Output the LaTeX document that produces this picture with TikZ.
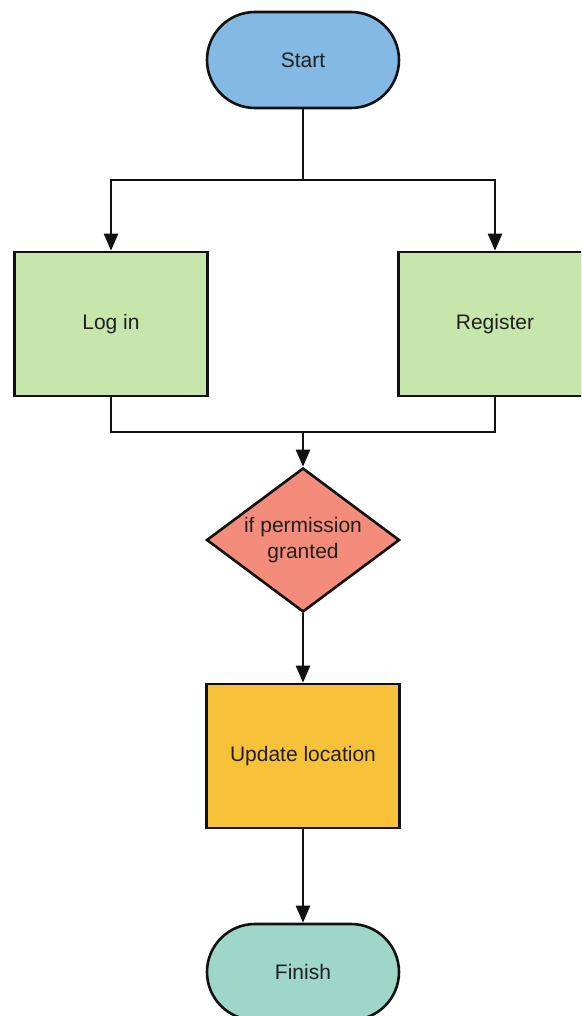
\documentclass[tikz,border=0pt]{standalone}
\usepackage{fontspec}
\setmainfont{Liberation Sans}
\usetikzlibrary{arrows.meta,shapes.geometric}
\definecolor{cstart}{HTML}{84B9E3}
\definecolor{cgreen}{HTML}{C6E6AC}
\definecolor{cred}{HTML}{F48C7C}
\definecolor{cyellow}{HTML}{F8C13A}
\definecolor{cteal}{HTML}{9ED6CA}
\definecolor{ctext}{HTML}{202020}
\definecolor{cline}{HTML}{111111}
\tikzset{
  base/.style={draw=cline, line width=2.6pt, inner sep=0pt, text=ctext, font=\fontsize{21}{26}\selectfont},
  pill/.style={base, rectangle, rounded corners=48pt, minimum width=192pt, minimum height=96pt},
  box/.style={base, rectangle, minimum width=193pt, minimum height=144pt},
  decision/.style={base, diamond, minimum width=193pt, minimum height=144pt},
  label/.style={text=ctext, font=\fontsize{21}{26}\selectfont, align=center, inner sep=0pt},
  conn/.style={draw=cline, line width=2.4pt},
  arrow/.style={conn, -{Triangle[width=14pt,length=17pt]}}
}
\begin{document}
\begin{tikzpicture}[x=1pt,y=-1pt]
\useasboundingbox (0,0) rectangle (581,1016);
\clip (0,0) rectangle (581,1016);
\fill[white] (0,0) rectangle (581,1016);
\node[pill, fill=cstart] (start) at (303,60) {Start};
\node[box, fill=cgreen] (login) at (111,324) {Log in};
\node[box, fill=cgreen] (register) at (495,324) {Register};
\node[decision, fill=cred] (dec) at (303,540) {};
\node[label] (dectext) at (303,540) {if permission\\granted};
\node[box, fill=cyellow] (update) at (303,756) {Update location};
\node[pill, fill=cteal] (finish) at (303,972) {Finish};
\coordinate (split) at (303,180);
\coordinate (merge) at (303,432);
\draw[conn] (start.south) -- (split);
\draw[arrow] (split) -| (login.north);
\draw[arrow] (split) -| (register.north);
\draw[conn] (login.south) |- (merge);
\draw[conn] (register.south) |- (merge);
\draw[arrow] (merge) -- (dec.north);
\draw[arrow] (dec.south) -- (update.north);
\draw[arrow] (update.south) -- (finish.north);
\end{tikzpicture}
\end{document}
